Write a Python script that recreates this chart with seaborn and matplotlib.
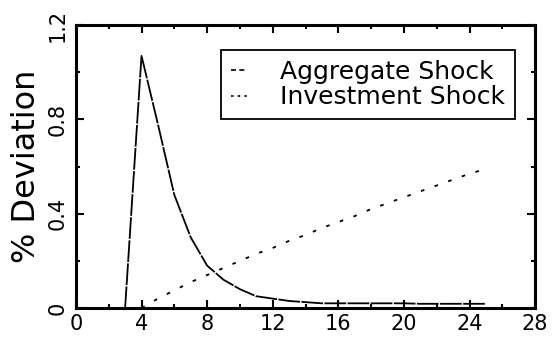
import numpy as np
import pandas as pd
import matplotlib
matplotlib.use("Agg")
import matplotlib.pyplot as plt
from matplotlib.ticker import MultipleLocator
import seaborn as sns

# impulse responses
agg_t = [3, 4, 5, 6, 7, 8, 9, 10, 11, 12, 13, 14, 15, 16, 17, 18, 19, 20, 21, 22, 23, 24, 25]
agg_v = [0.0, 1.07, 0.78, 0.48, 0.30, 0.18, 0.12, 0.08, 0.05, 0.04, 0.03, 0.025, 0.02, 0.02,
         0.02, 0.02, 0.02, 0.02, 0.018, 0.018, 0.018, 0.018, 0.018]
inv_t = [4, 5, 6, 7, 8, 9, 10, 11, 12, 13, 14, 15, 16, 17, 18, 19, 20, 21, 22, 23, 24, 25]
inv_v = [0.0, 0.04, 0.075, 0.11, 0.14, 0.17, 0.20, 0.23, 0.255, 0.285, 0.31, 0.34, 0.365,
         0.39, 0.42, 0.445, 0.47, 0.495, 0.52, 0.545, 0.57, 0.59]
labels = ["Aggregate Shock", "Investment Shock"]
xticks = [0, 4, 8, 12, 16, 20, 24, 28]
yticks = [0, 0.4, 0.8, 1.2]

df = pd.concat([
    pd.DataFrame({"t": agg_t, "dev": agg_v, "shock": labels[0]}),
    pd.DataFrame({"t": inv_t, "dev": inv_v, "shock": labels[1]}),
])

sns.set_style("ticks")
plt.rcParams["font.family"] = ["DejaVu Sans"]
plt.rcParams["text.color"] = "black"

fig = plt.figure(figsize=(5.54, 3.4), dpi=100)
ax = fig.add_axes([0.137, 0.094, 0.829, 0.832])

sns.lineplot(data=df, x="t", y="dev", hue="shock", style="shock",
             palette={labels[0]: "black", labels[1]: "black"},
             dashes={labels[0]: (12, 0.8), labels[1]: (2, 6)},
             linewidth=1.3, ax=ax, legend=False)

ax.set_xlim(0, 28)
ax.set_ylim(0, 1.2)
ax.set_xticks(xticks)
ax.set_yticks(yticks)
ax.set_yticklabels(["0", "0.4", "0.8", "1.2"], rotation=90, va="center")
ax.xaxis.set_minor_locator(MultipleLocator(2))
ax.yaxis.set_minor_locator(MultipleLocator(0.2))
ax.tick_params(which="both", direction="in", top=True, right=True, width=1.5,
               labelsize=15, colors="black")
ax.tick_params(which="major", length=6)
ax.tick_params(which="minor", length=3)
ax.tick_params(axis="y", pad=6)
ax.tick_params(axis="x", pad=4)
for s in ax.spines.values():
    s.set_linewidth(2.2)
    s.set_color("black")

ax.set_xlabel("")
ax.set_ylabel("% Deviation", fontsize=23, labelpad=4, color="black")

handles = [plt.Line2D([], [], color="black", lw=1.2, dashes=(3, 2)),
           plt.Line2D([], [], color="black", lw=1.2, dashes=(1.5, 2.5))]
leg = ax.legend(handles, labels, loc="upper right", bbox_to_anchor=(0.956, 0.912),
                borderaxespad=0, fontsize=18, frameon=True, fancybox=False,
                edgecolor="black", framealpha=1, handlelength=0.65,
                handletextpad=1.3, borderpad=0.4, labelspacing=0.05)
leg.get_frame().set_linewidth(1.3)
for txt in leg.get_texts():
    txt.set_color("black")

fig.savefig("out.png", dpi=100)
